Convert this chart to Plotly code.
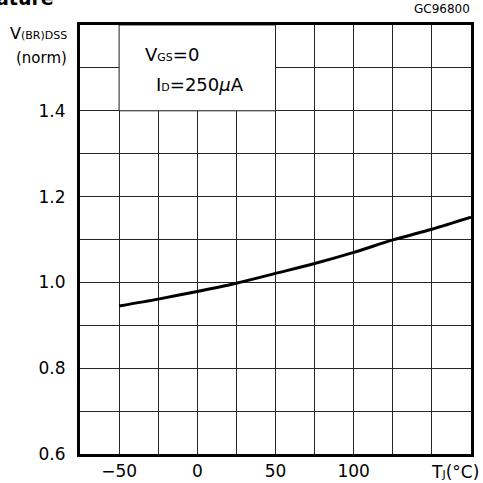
import plotly.graph_objects as go

# Junction temperature (°C) and normalized breakdown voltage
temp_c = [-50, -25, 0, 25, 50, 75, 100, 125, 150, 175]
v_norm = [0.945, 0.961, 0.979, 0.998, 1.021, 1.044, 1.070, 1.099, 1.124, 1.152]

x_grid = [-75, -50, -25, 0, 25, 50, 75, 100, 125, 150, 175]
x_text = ["", "−50", "", "0", "", "50", "", "100", "", "", ""]
y_grid = [0.6, 0.7, 0.8, 0.9, 1.0, 1.1, 1.2, 1.3, 1.4, 1.5, 1.6]
y_text = ["0.6", "", "0.8", "", "1.0", "", "1.2", "", "1.4", "", ""]

FONT = "DejaVu Sans, Liberation Sans, Arial, sans-serif"
W, H = 483, 483
L, R, T, B = 80, 12, 25, 29
PW, PH = W - L - R, H - T - B


def px_x(p):
    return (p - L) / PW


def px_y(p):
    return 1 - (p - T) / PH


fig = go.Figure()
fig.add_trace(go.Scatter(
    x=temp_c, y=v_norm, mode="lines",
    line=dict(color="black", width=3, shape="spline", smoothing=0.8),
    hoverinfo="skip", showlegend=False,
))

axis_common = dict(
    showline=True, linecolor="black", linewidth=3, mirror=True,
    showgrid=True, gridcolor="#262626", gridwidth=1,
    zeroline=False, ticks="", automargin=False,
    tickfont=dict(family=FONT, size=17, color="black"),
    fixedrange=True,
)

fig.update_xaxes(range=[-75, 175], tickmode="array", tickvals=x_grid,
                 ticktext=x_text, ticklabelstandoff=0, **axis_common)
fig.update_yaxes(range=[0.6, 1.6], tickmode="array", tickvals=y_grid,
                 ticktext=y_text, ticklabelstandoff=8, **axis_common)

# Conditions box in the upper-left of the plot
fig.add_shape(type="rect", x0=-50, x1=50, y0=1.4, y1=1.6,
              fillcolor="white", line=dict(color="#262626", width=1),
              layer="above")

sub = "<span style='font-size:11px'>{}</span>"
annots = [
    dict(x=px_x(143), y=px_y(55), text="V" + sub.format("GS") + "=0",
         xanchor="left", yanchor="middle", size=18),
    dict(x=px_x(154), y=px_y(84), text="I" + sub.format("D") + "=250<i>μ</i>A",
         xanchor="left", yanchor="middle", size=18),
    dict(x=px_x(69), y=px_y(33), text="V" + sub.format("(BR)DSS"),
         xanchor="right", yanchor="middle", size=16),
    dict(x=px_x(69), y=px_y(58), text="(norm)",
         xanchor="right", yanchor="middle", size=15),
    dict(x=px_x(472), y=px_y(9), text="GC96800",
         xanchor="right", yanchor="middle", size=12),
    dict(x=px_x(481), y=px_y(472), text="T" + sub.format("J") + "(°C)",
         xanchor="right", yanchor="middle", size=17),
    dict(x=px_x(56), y=px_y(11), text="<b>Temperature</b>",
         xanchor="right", yanchor="bottom", size=19),
]
for a in annots:
    fig.add_annotation(x=a["x"], y=a["y"], xref="paper", yref="paper",
                       text=a["text"], showarrow=False,
                       xanchor=a["xanchor"], yanchor=a["yanchor"],
                       font=dict(family=FONT, size=a["size"], color="black"))

fig.update_layout(
    width=W, height=H,
    margin=dict(l=L, r=R, t=T, b=B),
    paper_bgcolor="white", plot_bgcolor="white",
    showlegend=False,
)

fig.write_html("out.html", config={"displayModeBar": False})
